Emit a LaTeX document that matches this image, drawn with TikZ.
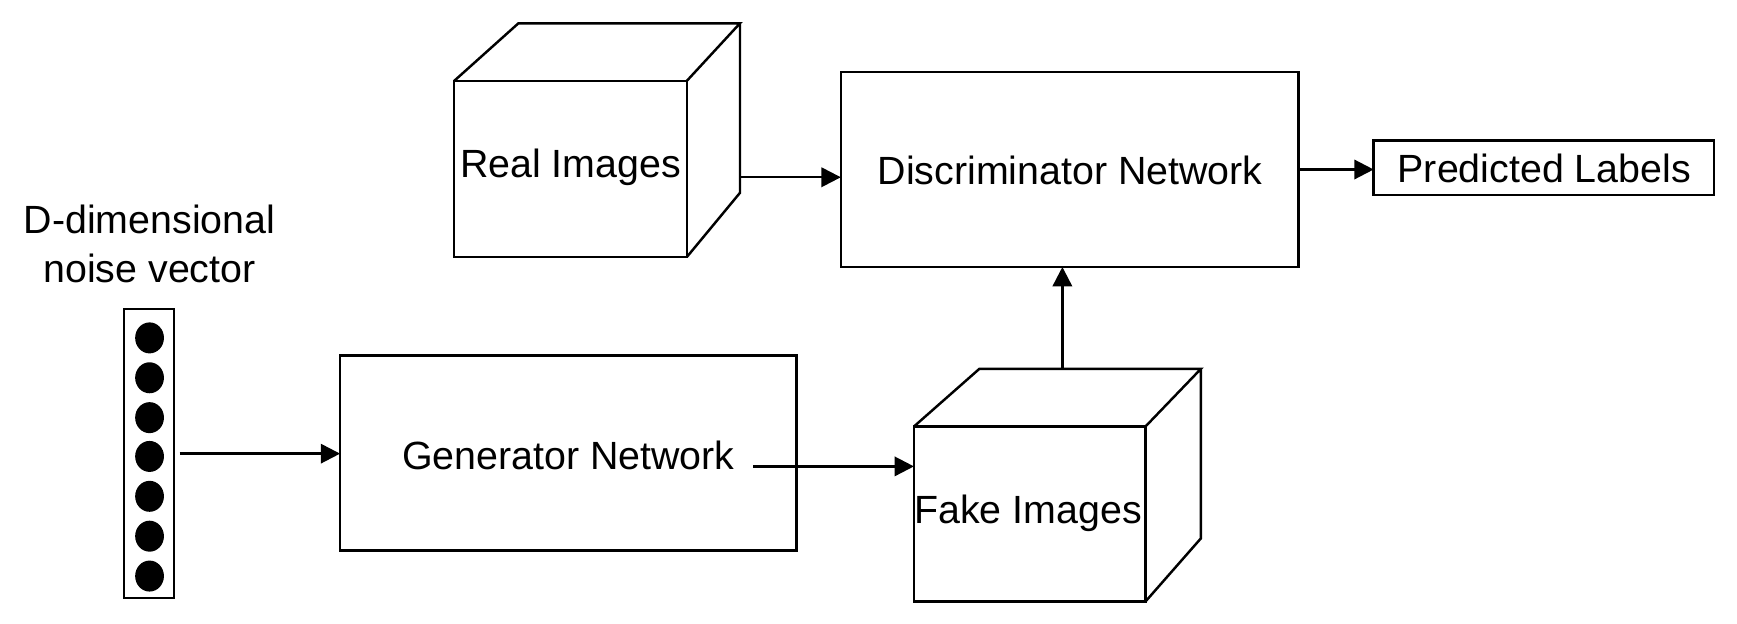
\documentclass[tikz,border=0pt]{standalone}
\usepackage{fontspec}
\setmainfont{Liberation Sans}
\usetikzlibrary{arrows.meta,fit,shapes.geometric}
\begin{document}
\begin{tikzpicture}[x=0.011078cm,y=-0.011078cm,
  lbl/.style={font=\fontsize{11.2}{13.8}\selectfont, inner sep=0pt},
  box/.style={draw, line width=0.7pt, inner sep=0pt, outer sep=0pt},
  edge/.style={line width=0.7pt, line join=miter},
  arr/.style={line width=0.7pt, -{Triangle[length=5.5pt,width=5.5pt]}},
  dot/.style={ellipse, fill=black, draw=none, inner sep=0pt, minimum width=0.288cm, minimum height=0.31cm}]
\useasboundingbox (0,0) rectangle (1568,563);
% noise vector
\node[lbl, align=center] (dlabel) at (135,220) {D-dimensional\\noise vector};
\node[box, fit={(112,279)(157,540)}] (noise) {};
\foreach \y [count=\i] in {305,341,377,412,448,484,520}
  \node[dot] (dot\i) at (135,\y) {};
% generator
\node[box, fit={(307,321)(719,497)}] (gen) {};
\node[lbl] (genlbl) at (513,411) {Generator Network};
% fake images cube
\node[box, fit={(825,385)(1034,543)}] (fake) {};
\node[lbl] (fakelbl) at (928,463) {Fake Images};
\coordinate (fakeTL) at (884,333);
\coordinate (fakeTR) at (1084,333);
\coordinate (fakeBR) at (1084,486);
\draw[edge] (fake.north west) -- (fakeTL) -- (fakeTR) -- (fake.north east)
  (fakeTR) -- (fakeBR) -- (fake.south east);
% real images cube
\node[box, fit={(410,73)(620,232)}] (real) {};
\node[lbl] (reallbl) at (515,151) {Real Images};
\coordinate (realTL) at (468,21);
\coordinate (realTR) at (668,21);
\coordinate (realBR) at (668,174);
\draw[edge] (real.north west) -- (realTL) -- (realTR) -- (real.north east)
  (realTR) -- (realBR) -- (real.south east);
% discriminator
\node[box, fit={(759,65)(1172,241)}] (disc) {};
\node[lbl] (disclbl) at (966,154) {Discriminator Network};
% predicted labels
\node[box, fit={(1240,127)(1547,176)}] (pred) {};
\node[lbl] (predlbl) at (1394,152) {Predicted Labels};
% connectors
\draw[arr, shorten <=1.6pt] (noise.east) -- (noise.east -| gen.west);
\coordinate (gout) at (680,421);
\draw[arr] (gout) -- (gout -| fake.west);
\coordinate (rout) at (668,160);
\draw[arr] (rout) -- (rout -| disc.west);
\draw[arr] (disc.east) -- (disc.east -| pred.west);
\coordinate (fout) at (959,333);
\draw[arr] (fout) -- (fout |- disc.south);
\end{tikzpicture}
\end{document}
